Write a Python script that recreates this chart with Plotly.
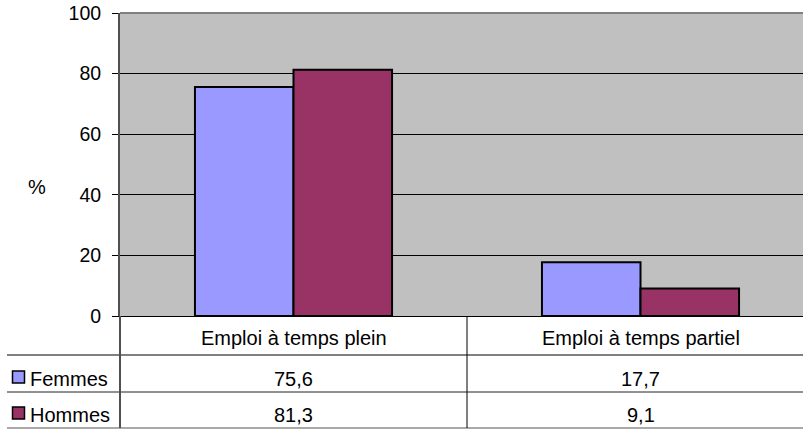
import plotly.graph_objects as go

categories = ["Emploi à temps plein", "Emploi à temps partiel"]
series_names = ["Femmes", "Hommes"]
femmes = [75.6, 17.7]
hommes = [81.3, 9.1]
colors = ["#9999FF", "#993366"]
y_ticks = [0, 20, 40, 60, 80, 100]

W, H = 803, 432
FONT = "Liberation Sans, Arial, sans-serif"


def px(x):
    return x / W


def py(y):
    return 1 - y / H


def fmt(v):
    return f"{v:.1f}".replace(".", ",")


fig = go.Figure()
for name, vals, col in zip(series_names, [femmes, hommes], colors):
    fig.add_trace(go.Bar(
        x=categories, y=vals, name=name,
        marker=dict(color=col, line=dict(color="black", width=2)),
        showlegend=False,
    ))

plot_left, plot_top, plot_bottom = 120, 13, 316
unit_px = 347.0
range_right = -0.5 + (W - plot_left) / unit_px

fig.update_layout(
    width=W, height=H,
    margin=dict(l=0, r=0, t=0, b=0, pad=0, autoexpand=False),
    paper_bgcolor="white",
    plot_bgcolor="#C0C0C0",
    barmode="group", bargap=0.432, bargroupgap=0,
    font=dict(family=FONT, size=20, color="black"),
    xaxis=dict(
        domain=[px(plot_left), 1], automargin=False,
        type="category", range=[-0.5, range_right],
        showticklabels=False, ticks="", showgrid=False,
        showline=True, linecolor="black", linewidth=1,
        zeroline=False,
    ),
    yaxis=dict(
        domain=[py(plot_bottom), py(plot_top)], automargin=False,
        range=[0, 100], tickvals=y_ticks,
        ticktext=[str(t) for t in y_ticks],
        ticks="outside", ticklen=6, tickcolor="black", tickwidth=1,
        ticklabelstandoff=7, ticklabeloverflow="allow",
        showgrid=True, gridcolor="black", gridwidth=1,
        showline=True, linecolor="#505050", linewidth=2,
        zeroline=False,
        tickfont=dict(size=19.5, family=FONT),
    ),
)

shapes = []
# top border of plot area
shapes.append(dict(type="line", xref="paper", yref="paper",
                   x0=px(plot_left), x1=1, y0=py(plot_top), y1=py(plot_top),
                   line=dict(color="#808080", width=2), layer="above"))
# table horizontal lines
for yy, col in [(355, "black"), (392, "#222222"), (428, "#555555")]:
    shapes.append(dict(type="line", xref="paper", yref="paper",
                       x0=px(7), x1=1, y0=py(yy), y1=py(yy),
                       line=dict(color=col, width=1)))
# table vertical lines
shapes.append(dict(type="line", xref="paper", yref="paper",
                   x0=px(plot_left), x1=px(plot_left),
                   y0=py(plot_bottom), y1=py(428),
                   line=dict(color="#505050", width=2)))
shapes.append(dict(type="line", xref="x", yref="paper",
                   x0=0.5, x1=0.5, y0=py(plot_bottom), y1=py(428),
                   line=dict(color="black", width=1)))
# legend keys
row_y = [377, 413]
for col, yc in zip(colors, row_y):
    shapes.append(dict(type="rect", xref="paper", yref="paper",
                       x0=px(12.5), x1=px(24.5), y0=py(yc - 6), y1=py(yc + 6),
                       fillcolor=col, line=dict(color="black", width=1.5)))
fig.update_layout(shapes=shapes)

ann = []
ann.append(dict(text="%", xref="paper", yref="paper", x=px(37), y=py(187),
                showarrow=False, xanchor="center", yanchor="middle",
                font=dict(size=20)))
for cat in categories:
    ann.append(dict(text=cat, xref="x", yref="paper", x=cat, y=py(338),
                    showarrow=False, xanchor="center", yanchor="middle",
                    font=dict(size=20)))
for name, vals, yc in zip(series_names, [femmes, hommes], [379, 415]):
    ann.append(dict(text=name, xref="paper", yref="paper", x=px(28), y=py(yc),
                    showarrow=False, xanchor="left", yanchor="middle",
                    font=dict(size=20)))
    for cat, v in zip(categories, vals):
        ann.append(dict(text=fmt(v), xref="x", yref="paper", x=cat, y=py(yc),
                        showarrow=False, xanchor="center", yanchor="middle",
                        font=dict(size=20)))
fig.update_layout(annotations=ann)

# remove the default page margin so the figure fills the window exactly
fig.write_html(
    "out.html",
    config={"displayModeBar": False},
    post_script="document.body.style.margin='0';document.body.style.overflow='hidden';",
)
